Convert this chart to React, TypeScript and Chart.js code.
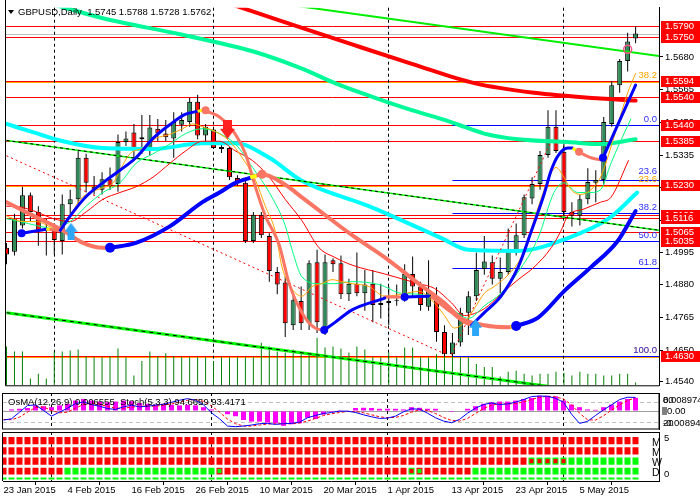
import React, { useEffect, useRef } from "react";
import { Chart, registerables } from "chart.js";

Chart.register(...registerables);

const FONT = "'Liberation Sans', Arial, sans-serif";
const X_MIN = -0.0625;
const X_MAX = 81.9375;
const Y_MIN = 1.4527;
const Y_MAX = 1.5853;

// ---------------- data ----------------
const dateTicks = [0, 8, 16, 24, 32, 40, 48, 56, 64, 72];
const dateLabels = ["23 Jan 2015", "4 Feb 2015", "16 Feb 2015", "26 Feb 2015", "10 Mar 2015", "20 Mar 2015", "1 Apr 2015", "13 Apr 2015", "23 Apr 2015", "5 May 2015"];
const monthStarts = [6, 26, 48, 70];
const priceTicks = [1.568, 1.5565, 1.545, 1.5335, 1.522, 1.5105, 1.4995, 1.488, 1.4765, 1.465, 1.454];

const opens = [1.5010, 1.4996, 1.5088, 1.5194, 1.5136, 1.5071, 1.5078, 1.5034, 1.5163, 1.5180,
  1.5326, 1.5224, 1.5214, 1.5251, 1.5234, 1.5381, 1.5415, 1.5391, 1.5357, 1.5428,
  1.5411, 1.5394, 1.5442, 1.5452, 1.5523, 1.5404, 1.5425, 1.5364, 1.5360, 1.5255,
  1.5238, 1.5034, 1.5126, 1.5051, 1.4925, 1.4888, 1.4738, 1.4823, 1.4745, 1.4959,
  1.4728, 1.4966, 1.4956, 1.4847, 1.4884, 1.4850, 1.4884, 1.4809, 1.4816, 1.4823,
  1.4830, 1.4918, 1.4874, 1.4803, 1.4833, 1.4714, 1.4636, 1.4677, 1.4782, 1.4840,
  1.4935, 1.4959, 1.4901, 1.4925, 1.4999, 1.5054, 1.5183, 1.5234, 1.5336, 1.5435,
  1.5347, 1.5136, 1.5122, 1.5180, 1.5238, 1.5248, 1.5445, 1.5581, 1.5666, 1.5745];
const highs = [1.5027, 1.5129, 1.5224, 1.5204, 1.5156, 1.5112, 1.5095, 1.5197, 1.5214, 1.5350,
  1.5340, 1.5262, 1.5275, 1.5292, 1.5408, 1.5418, 1.5445, 1.5476, 1.5476, 1.5462,
  1.5459, 1.5486, 1.5486, 1.5537, 1.5547, 1.5445, 1.5435, 1.5374, 1.5364, 1.5265,
  1.5248, 1.5136, 1.5136, 1.5061, 1.4942, 1.4908, 1.4847, 1.4874, 1.4966, 1.5003,
  1.4986, 1.4973, 1.4983, 1.4901, 1.4993, 1.4932, 1.4932, 1.4884, 1.4874, 1.4881,
  1.4952, 1.4979, 1.4891, 1.4966, 1.4871, 1.4738, 1.4711, 1.4799, 1.4857, 1.4993,
  1.5051, 1.4983, 1.4976, 1.5078, 1.5095, 1.5197, 1.5258, 1.5350, 1.5493, 1.5493,
  1.5384, 1.5170, 1.5197, 1.5289, 1.5282, 1.5469, 1.5595, 1.5673, 1.5765, 1.5788];
const lows = [1.4952, 1.4983, 1.5078, 1.5102, 1.5017, 1.4983, 1.4986, 1.4986, 1.5129, 1.5163,
  1.5204, 1.5197, 1.5197, 1.5214, 1.5207, 1.5367, 1.5326, 1.5340, 1.5333, 1.5384,
  1.5384, 1.5326, 1.5418, 1.5435, 1.5391, 1.5384, 1.5357, 1.5343, 1.5248, 1.5228,
  1.5027, 1.5027, 1.5044, 1.4891, 1.4847, 1.4697, 1.4721, 1.4721, 1.4721, 1.4711,
  1.4704, 1.4925, 1.4830, 1.4823, 1.4840, 1.4789, 1.4748, 1.4762, 1.4738, 1.4806,
  1.4820, 1.4840, 1.4789, 1.4789, 1.4680, 1.4629, 1.4629, 1.4663, 1.4704, 1.4823,
  1.4915, 1.4881, 1.4850, 1.4915, 1.4983, 1.5044, 1.5163, 1.5214, 1.5326, 1.5343,
  1.5119, 1.5085, 1.5088, 1.5163, 1.5170, 1.5231, 1.5435, 1.5554, 1.5629, 1.5728];
const closes = [1.4986, 1.5112, 1.5194, 1.5136, 1.5068, 1.5078, 1.5037, 1.5163, 1.5180, 1.5326,
  1.5238, 1.5214, 1.5251, 1.5228, 1.5381, 1.5394, 1.5360, 1.5398, 1.5432, 1.5411,
  1.5398, 1.5452, 1.5459, 1.5523, 1.5404, 1.5435, 1.5360, 1.5357, 1.5258, 1.5238,
  1.5034, 1.5126, 1.5054, 1.4928, 1.4881, 1.4745, 1.4826, 1.4745, 1.4956, 1.4748,
  1.4959, 1.4952, 1.4847, 1.4884, 1.4850, 1.4881, 1.4809, 1.4816, 1.4823, 1.4826,
  1.4918, 1.4874, 1.4809, 1.4860, 1.4714, 1.4636, 1.4677, 1.4782, 1.4840, 1.4932,
  1.4962, 1.4901, 1.4925, 1.4999, 1.5054, 1.5187, 1.5234, 1.5336, 1.5435, 1.5350,
  1.5136, 1.5122, 1.5180, 1.5241, 1.5248, 1.5452, 1.5581, 1.5666, 1.5734, 1.5762];
const volumes = [160, 140, 140, 28, 48, 28, 140, 140, 144, 148, 120, 116, 116, 120, 152, 116, 40, 100, 140, 120,
  132, 120, 116, 116, 116, 116, 100, 116, 116, 116, 116, 116, 176, 160, 140, 136, 148, 128, 128, 196,
  156, 160, 152, 136, 160, 148, 116, 116, 136, 116, 156, 156, 116, 116, 128, 132, 132, 116, 116, 88,
  76, 76, 36, 56, 60, 48, 40, 48, 48, 56, 52, 40, 56, 48, 48, 40, 40, 48, 48, 12];

const bidPrice = 1.5762;
const redLevels = [1.5790, 1.5750, 1.5594, 1.5540, 1.5440, 1.5385, 1.5230, 1.5126, 1.5116, 1.5065, 1.5035, 1.4630];
const orangeLevels = [1.5594, 1.5230, 1.4630];
const orangeFibLabels = ["38.2", "23.6", "100.0"];
const fibStart = 56;
const blueFibLevels = [1.5440, 1.5249, 1.5131, 1.5035, 1.4939, 1.4630];
const blueFibLabels = ["0.0", "23.6", "38.2", "50.0", "61.8", "100.0"];

// moving averages / indicator lines: [bar index, price]
const maMint = [[6.5, 1.586], [12.1, 1.5816], [22.1, 1.5758], [30.9, 1.57], [37.1, 1.5639], [41.25, 1.5588], [45.5, 1.5544], [48, 1.552], [51.75, 1.5486], [55, 1.5459], [56.75, 1.5442], [60, 1.5411], [64.25, 1.5391], [70.5, 1.5381], [74.6, 1.5374], [79, 1.5391]];
const maRedThick = [[28.75, 1.586], [30.9, 1.584], [37.1, 1.5782], [43.4, 1.5724], [50.9, 1.5656], [58.75, 1.5588], [66.25, 1.5554], [74.6, 1.5534], [79, 1.5527]];
const maCyan = [[0, 1.5445], [3.4, 1.5415], [7.1, 1.5384], [12.1, 1.536], [18.4, 1.5357], [24.6, 1.5377], [28.75, 1.5377], [33, 1.5326], [37.1, 1.5245], [45.5, 1.5156], [54.6, 1.5044], [58, 1.5003], [64.25, 1.4999], [70.5, 1.5044], [75.6, 1.5112], [79.2, 1.5204]];
const maOrange = [[0, 1.5122], [2.1, 1.5102], [3.75, 1.5102], [6.25, 1.5078], [8, 1.5122], [9.25, 1.518], [10.5, 1.5204], [12.1, 1.5221], [13.4, 1.5238], [14.25, 1.5282], [15.5, 1.534], [17.1, 1.536], [18.75, 1.5394], [20.5, 1.5408], [22.1, 1.5428], [23.4, 1.5445], [24.6, 1.5435], [26.25, 1.5418], [28, 1.5384], [29.6, 1.5326], [31.25, 1.5248], [32.5, 1.5156], [33.75, 1.5068], [34.6, 1.4942], [35.9, 1.4864], [37.1, 1.484], [38.4, 1.4874], [39.6, 1.4884], [40.9, 1.4898], [42.1, 1.4891], [43.4, 1.4884], [45.5, 1.4874], [47.5, 1.484], [49.6, 1.4847], [51.75, 1.4857], [53.75, 1.4816], [55, 1.4772], [56.25, 1.4728], [57.5, 1.4748], [58.75, 1.4796], [60, 1.485], [61.25, 1.4874], [63, 1.4915], [64.6, 1.4976], [65.9, 1.5078], [67.1, 1.518], [68, 1.5248], [69, 1.5292], [70, 1.5258], [70.9, 1.5214], [72.1, 1.5197], [73.4, 1.5214], [74.6, 1.5258], [76.5, 1.5418], [78, 1.5554], [79, 1.5622]];
const maSpring = [[0, 1.5112], [1.75, 1.5102], [3.75, 1.5088], [5.9, 1.5078], [8, 1.5102], [10, 1.5156], [12.1, 1.5204], [14.25, 1.5238], [16.25, 1.5306], [18.4, 1.534], [20.5, 1.5374], [22.5, 1.5411], [24.6, 1.5428], [26.75, 1.5411], [28.75, 1.5374], [30.9, 1.5292], [33, 1.5204], [35, 1.5088], [35.9, 1.4999], [37.1, 1.4908], [39.25, 1.4884], [41.25, 1.4884], [43.4, 1.4891], [46.75, 1.4881], [49.6, 1.485], [51.75, 1.4847], [53.75, 1.483], [55.9, 1.4796], [58, 1.4762], [60, 1.4806], [62.1, 1.485], [64.25, 1.4925], [66.75, 1.5044], [68.75, 1.5204], [70, 1.5238], [71.75, 1.5204], [73.4, 1.5204], [74.6, 1.5214], [75.9, 1.5306], [77.1, 1.5384], [78.4, 1.5462]];
const maRedThin = [[0, 1.5156], [1.75, 1.5153], [3.75, 1.5136], [5.9, 1.5112], [8, 1.5102], [10, 1.5136], [12.1, 1.518], [14.25, 1.5204], [16.25, 1.5224], [18.4, 1.5258], [20.5, 1.5306], [22.5, 1.535], [24.6, 1.5384], [26.75, 1.5384], [28.75, 1.535], [30.9, 1.5316], [33, 1.5258], [35, 1.518], [37.1, 1.5105], [39.25, 1.501], [41.25, 1.4976], [43.4, 1.4949], [47.5, 1.4918], [51.75, 1.4884], [53.75, 1.4867], [55.9, 1.4816], [57.5, 1.4772], [60, 1.4796], [62.1, 1.4847], [64.25, 1.4898], [66.25, 1.4942], [68.4, 1.501], [69.6, 1.5068], [70.5, 1.5122], [72.5, 1.5146], [74.6, 1.517], [75.9, 1.5187], [78.1, 1.5316]];

const slowSalmon1 = [[0, 1.517], [3.4, 1.5122], [7.1, 1.5071], [9.6, 1.5027], [12.1, 1.501], [13, 1.501]];
const slowBlue1 = [[13, 1.501], [16.25, 1.5027], [20.5, 1.5085], [24.6, 1.517], [26.75, 1.5204], [28.75, 1.5238], [30.9, 1.5258]];
const slowSalmon2 = [[30.9, 1.5258], [32.1, 1.5268], [35, 1.5231], [37.1, 1.5187], [43.4, 1.5054], [47.5, 1.4976], [51.75, 1.4884], [55, 1.4816], [57.1, 1.4762], [60, 1.4738], [63, 1.4731], [64, 1.4735]];
const slowBlue2 = [[64, 1.4735], [66.75, 1.4765], [70, 1.4857], [73.4, 1.4942], [76.75, 1.5034], [79, 1.5139]];
const slowBlueDots = [[13, 1.501], [64, 1.4735]];
const slowSalmonDots = [[32.1, 1.5268]];
const slowYellow = [[[12.4, 1.501], [13, 1.501]], [[63.3, 1.4731], [64, 1.4735]], [[30.6, 1.5257], [31.4, 1.5262]]];

const fastBlue = [
  [[1.9, 1.5061], [5, 1.5075]],
  [[6.75, 1.5071], [8, 1.5122], [10, 1.519], [12.1, 1.5238], [14.25, 1.5282], [16.25, 1.5326], [18.4, 1.5394], [20.5, 1.5442], [22.5, 1.5479], [24, 1.5489]],
  [[39.9, 1.4721], [41.25, 1.4748], [43.4, 1.4792], [47.5, 1.4833]],
  [[50, 1.4837], [53, 1.484]],
  [[58.4, 1.4738], [60, 1.4782], [62.1, 1.484], [64.25, 1.4942], [65.9, 1.5068], [67.5, 1.5197], [68.4, 1.5282], [69.25, 1.5333], [70.5, 1.536], [71.1, 1.536]],
  [[74.9, 1.5326], [79, 1.5581]],
];
const fastSalmon = [
  [[5.25, 1.5075], [6.5, 1.5071]],
  [[24.6, 1.5493], [26.75, 1.5469], [28.75, 1.5408], [30, 1.534], [31.25, 1.5224], [32.5, 1.5122], [34.25, 1.502], [35.5, 1.4884], [37.1, 1.4782], [38.75, 1.4728], [39.9, 1.4721]],
  [[47.5, 1.4837], [49.6, 1.4837]],
  [[53.4, 1.4837], [55.9, 1.4782], [57.5, 1.4748], [58.4, 1.4738]],
  [[71.6, 1.535], [73.4, 1.5326], [74.6, 1.5319]],
];
const fastYellow = [[[5, 1.5075], [5.4, 1.5075]], [[24, 1.5489], [24.6, 1.5493]], [[71.1, 1.536], [71.6, 1.535]]];
const fastBlueDots = [[1.9, 1.5061], [39.9, 1.4721], [50, 1.4837], [74.9, 1.5326]];
const fastSalmonDots = [[25, 1.5493], [71.9, 1.5347]];

const redDottedDown = [[0, 1.5333], [54.6, 1.4643]];
const redDottedUp = [[55.9, 1.4636], [68.4, 1.5384]];
const channelMid = [[0, 1.5387], [82, 1.5071]];
const channelLow = [[0, 1.4782], [70, 1.4516]];
const channelTop = [[36.25, 1.586], [82, 1.5683]];

const redArrowPoints = [[27.75, 1.5426]];
const upArrowPoints = [[8.1, 1.5068], [58.9, 1.4731]];
const markerPoints = [[78, 1.5707]];

// OsMA / Stochastic panel
const osma = [0.0003, 0.0008, 0.0011, 0.0015, 0.0028, 0.0024, 0.0019, 0.0028, 0.0036, 0.0052,
  0.0060, 0.0052, 0.0047, 0.0044, 0.0047, 0.0052, 0.0049, 0.0040, 0.0036, 0.0032,
  0.0036, 0.0031, 0.0028, 0.0031, 0.0028, 0.0019, 0.0008, -0.0002, -0.0016, -0.0026,
  -0.0045, -0.0053, -0.0053, -0.0058, -0.0061, -0.0074, -0.0066, -0.0061, -0.0034, -0.0040,
  -0.0018, -0.0005, 0.0001, 0.0002, 0.0015, 0.0016, 0.0015, 0.0011, 0.0011, 0.0011,
  0.0008, 0.0019, 0.0016, 0.0011, 0.0011, 0.0000, -0.0005, 0.0000, 0.0011, 0.0024,
  0.0036, 0.0044, 0.0047, 0.0047, 0.0052, 0.0060, 0.0065, 0.0076, 0.0076, 0.0073,
  0.0052, 0.0032, 0.0019, 0.0008, 0.0006, 0.0019, 0.0032, 0.0047, 0.0060, 0.006555];
const stochMain = [26, 30, 50, 70, 72, 55, 38, 50, 62, 76,
  81, 73, 68, 61, 58, 66, 71, 66, 68, 71,
  74, 80, 86, 91, 86, 72, 48, 30, 8, 6,
  8, 11, 15, 16, 13, 15, 16, 20, 33, 40,
  46, 49, 53, 53, 49, 42, 36, 31, 32, 38,
  51, 60, 59, 47, 33, 23, 18, 28, 47, 62,
  73, 78, 73, 75, 80, 88, 97, 99, 98, 92,
  80, 44, 16, 22, 40, 57, 72, 88, 95, 94.6659];
const stochSignal = [28, 27, 35, 50, 64, 66, 55, 48, 50, 62,
  73, 77, 74, 67, 62, 62, 65, 68, 68, 68,
  71, 75, 80, 86, 88, 83, 69, 50, 29, 15,
  8, 8, 11, 14, 15, 15, 15, 17, 23, 31,
  40, 45, 49, 52, 52, 48, 42, 36, 33, 34,
  40, 50, 57, 55, 46, 34, 25, 23, 31, 46,
  61, 71, 75, 75, 76, 81, 88, 95, 98, 96,
  90, 72, 47, 27, 26, 39, 56, 72, 85, 93.4171];
const stochLevels = [80, 20];

// Signal matrix panel: R red, G green, g green with red dot, r red with green dot
const matrixRows = [
  "RRRRRRRRRR" + "RRRRRRRRRR" + "RRRRRRRRRR" + "RRRRRRRRRR" + "RRRRRRRRRR" + "RRRRRRRRRR" + "RRRRRRRRRR" + "RRRRRRRRRR",
  "RRRRRRRRRR" + "RRRRRRRRRR" + "RRRRRRRRRR" + "RRRRRRRRRR" + "RRRRRRRRRR" + "RRRRRRRRRR" + "RRRRRRRRRR" + "RRRRRRRRRR",
  "RRRRRRRRRR" + "RRRRRRRRRR" + "RRRRRRRRRR" + "RRRRRRRRRR" + "RRRRRRRRRR" + "RRRRRRRRRR" + "RRRRRR" + "ggggg" + "GGGGGGGGG",
  "RRRRRRRR" + "GGGGGGGGGGGGGGGGGGG" + "r" + "RRRRRRRRRRRRRRRRRRRRRRR" + "g" + "r" + "RRRRRR" + "GGGGGGGGGGGGGGGGGGGGG",
  "GGGGGGGGGG" + "GGGGGGGGGG" + "GGGGGGGGGG" + "GGGGGGGGGG" + "GGGGGGGGGG" + "GGGGGGGGGG" + "GGGGGGGGGG" + "GGGGGGGGGG",
];
const matrixLabels = ["M", "M", "W", "D"];

// ---------------- styling helpers ----------------
const RED = "#ff0000";
const BODY_GREEN = "#2e8b57";
const SALMON = "#fa7563";
const BLUE = "#0000ff";
const YELLOW = "#ffff00";
const ROW_BANDS = [[3.65, 4.58], [2.6, 3.54], [1.56, 2.5], [0.57, 1.46], [0, 0.47]];

const pts = (a: number[][]) => a.map(([x, y]) => ({ x, y }));

function curve(points: number[][], color: string, width: number, order: number, extra: any = {}) {
  return {
    type: "line", data: pts(points), borderColor: color, borderWidth: width, pointRadius: 0, pointHoverRadius: 0,
    fill: false, cubicInterpolationMode: "monotone", borderCapStyle: "round", borderJoinStyle: "round", order, ...extra,
  };
}
function straight(points: number[][], color: string, width: number, order: number, dash: number[] = []) {
  return {
    type: "line", data: pts(points), borderColor: color, borderWidth: width, pointRadius: 0, pointHoverRadius: 0,
    fill: false, tension: 0, borderDash: dash, order,
  };
}
function dots(points: number[][], color: string, radius: number, order: number, extra: any = {}) {
  return {
    type: "line", data: pts(points), showLine: false, pointRadius: radius, pointHoverRadius: radius,
    pointBackgroundColor: color, pointBorderColor: color, pointBorderWidth: 0, order, ...extra,
  };
}

function makeArrow(color: string, down: boolean, w: number, h: number) {
  const c = document.createElement("canvas");
  c.width = w; c.height = h;
  const g = c.getContext("2d")!;
  g.fillStyle = color;
  const sh = Math.round(w * 0.2);
  const headH = Math.round(h * 0.5);
  g.beginPath();
  if (down) {
    g.moveTo(sh, 0); g.lineTo(w - sh, 0); g.lineTo(w - sh, h - headH); g.lineTo(w, h - headH);
    g.lineTo(w / 2, h); g.lineTo(0, h - headH); g.lineTo(sh, h - headH);
  } else {
    g.moveTo(sh, h); g.lineTo(w - sh, h); g.lineTo(w - sh, headH); g.lineTo(w, headH);
    g.lineTo(w / 2, 0); g.lineTo(0, headH); g.lineTo(sh, headH);
  }
  g.closePath(); g.fill();
  return c;
}

const baseX = (extra: any = {}) => ({ type: "linear", min: X_MIN, max: X_MAX, offset: false, display: false, ...extra });

function drawSeparators(ctx: CanvasRenderingContext2D, chart: any) {
  const a = chart.chartArea; const x = chart.scales.x;
  ctx.save();
  ctx.strokeStyle = "#000"; ctx.lineWidth = 1; ctx.setLineDash([3, 3]);
  monthStarts.forEach((i) => {
    const px = Math.floor(x.getPixelForValue(i)) + 0.5;
    ctx.beginPath(); ctx.moveTo(px, a.top); ctx.lineTo(px, a.bottom); ctx.stroke();
  });
  ctx.restore();
}

// ---------------- charts ----------------
function buildMain(canvas: HTMLCanvasElement) {
  const redArrow = makeArrow("#ff2020", true, 15, 19);
  const upArrow = makeArrow("#2ea6f8", false, 13, 17);

  const overlay = {
    id: "mainOverlay",
    beforeDatasetsDraw(chart: any) {
      const { ctx, chartArea: a, scales: { x, y } } = chart;
      ctx.save();
      ctx.beginPath(); ctx.rect(a.left, a.top, a.right - a.left, a.bottom - a.top); ctx.clip();
      const hline = (p: number, color: string, w: number, x0: number, dy = 0) => {
        const py = Math.round(y.getPixelForValue(p)) + (w % 2 ? 0.5 : 0) + dy;
        ctx.strokeStyle = color; ctx.lineWidth = w; ctx.setLineDash([]);
        ctx.beginPath(); ctx.moveTo(x0, py); ctx.lineTo(a.right, py); ctx.stroke();
      };
      hline(bidPrice, "#c0c0c0", 1, a.left);
      orangeLevels.forEach((p) => hline(p, "#ffa500", 2, a.left, 1));
      redLevels.forEach((p) => hline(p, RED, 1, a.left));
      const fx = x.getPixelForValue(fibStart);
      blueFibLevels.forEach((p) => hline(p, BLUE, 1, fx));
      ctx.restore();
      drawSeparators(ctx, chart);
    },
    afterDatasetsDraw(chart: any) {
      const { ctx, chartArea: a, scales: { y } } = chart;
      ctx.save();
      ctx.font = `9.5px ${FONT}`; ctx.textAlign = "right"; ctx.textBaseline = "bottom";
      orangeLevels.forEach((p, i) => {
        ctx.fillStyle = "#ffa500";
        ctx.fillText(orangeFibLabels[i], a.right - 2, Math.round(y.getPixelForValue(p)) - 1);
      });
      blueFibLevels.forEach((p, i) => {
        ctx.fillStyle = "#3030ff";
        const dy = blueFibLabels[i] === "23.6" ? -4 : -1;
        ctx.fillText(blueFibLabels[i], a.right - 2, Math.round(y.getPixelForValue(p)) + dy);
      });
      ctx.restore();
    },
    afterDraw(chart: any) {
      const { ctx, chartArea: a, scales: { y } } = chart;
      ctx.save();
      ctx.strokeStyle = "#000"; ctx.lineWidth = 1; ctx.setLineDash([]);
      ctx.beginPath(); ctx.moveTo(a.left - 0.5, 0); ctx.lineTo(a.left - 0.5, a.bottom + 0.5); ctx.lineTo(a.right, a.bottom + 0.5); ctx.stroke();
      ctx.font = `9.5px ${FONT}`; ctx.textAlign = "left"; ctx.textBaseline = "middle";
      redLevels.forEach((p) => {
        const py = Math.round(y.getPixelForValue(p));
        ctx.fillStyle = RED; ctx.fillRect(a.right + 2, py - 5, 39, 11);
        ctx.fillStyle = "#fff"; ctx.fillText(p.toFixed(4), a.right + 6, py + 0.5);
      });
      ctx.fillStyle = "#000";
      ctx.beginPath(); ctx.moveTo(8, 10); ctx.lineTo(14, 10); ctx.lineTo(11, 14); ctx.closePath(); ctx.fill();
      const n = opens.length - 1;
      const title = `GBPUSD,Daily  ${opens[n].toFixed(4)} ${highs[n].toFixed(4)} ${lows[n].toFixed(4)} ${closes[n].toFixed(4)}`;
      ctx.fillText(title, 18, 12.5);
      ctx.restore();
    },
  };

  const datasets: any[] = [
    dots(markerPoints, "rgba(0,0,0,0)", 4, 1, { pointBorderColor: "#ff4f86", pointBorderWidth: 1.5 }),
    dots(redArrowPoints, RED, 6, 1, { pointStyle: redArrow }),
    dots(upArrowPoints, "#2ea6f8", 6, 1, { pointStyle: upArrow }),
    dots(slowBlueDots, BLUE, 5, 2),
    dots(slowSalmonDots, SALMON, 4.5, 2),
    dots(fastBlueDots, BLUE, 4, 2),
    dots(fastSalmonDots, SALMON, 4, 2),
    ...fastYellow.map((s) => straight(s, YELLOW, 3, 2.5)),
    ...slowYellow.map((s) => straight(s, YELLOW, 4, 2.5)),
    ...fastBlue.map((s) => curve(s, BLUE, 3, 3)),
    ...fastSalmon.map((s) => curve(s, SALMON, 3, 3)),
    curve(slowSalmon1, SALMON, 4, 4),
    curve(slowBlue1, BLUE, 4, 4),
    curve(slowSalmon2, SALMON, 4, 4),
    curve(slowBlue2, BLUE, 4, 4),
    curve(maOrange, "#ffa500", 1, 6),
    curve(maSpring, "#00ff7f", 1, 6),
    curve(maRedThin, RED, 1, 6),
    straight(redDottedDown, RED, 1, 7, [2, 3]),
    straight(redDottedUp, RED, 1, 7, [2, 3]),
    straight(channelMid, "#000", 1, 7, [3, 3]),
    straight(channelMid, "#00ff00", 1.5, 8),
    straight(channelLow, "#000", 1, 7, [4, 4]),
    straight(channelLow, "#00ff00", 3, 8),
    straight(channelTop, "#00ee00", 2, 8),
    curve(maCyan, "#00ffff", 4, 9),
    curve(maMint, "#00fa9a", 4, 9),
    curve(maRedThick, RED, 4, 9),
    {
      type: "bar", data: opens.map((o, i) => ({ x: i, y: [o, closes[i]] })),
      backgroundColor: opens.map((o, i) => (closes[i] >= o ? BODY_GREEN : RED)),
      borderColor: "#000", borderWidth: 1, borderSkipped: false, barThickness: 5, grouped: false, inflateAmount: 0, order: 20,
    },
    {
      type: "bar", data: highs.map((h, i) => ({ x: i, y: [lows[i], h] })),
      backgroundColor: "#000", borderWidth: 0, barThickness: 1, grouped: false, inflateAmount: 0, order: 21,
    },
    {
      type: "bar", yAxisID: "yVol", data: volumes.map((v, i) => ({ x: i, y: v })),
      backgroundColor: "#008000", borderWidth: 0, barThickness: 1, grouped: false, inflateAmount: 0, order: 40,
    },
  ];

  return new Chart(canvas, {
    type: "bar",
    data: { datasets },
    options: {
      animation: false, responsive: false, maintainAspectRatio: false, events: [],
      layout: { padding: { left: 3, top: 2, right: 0, bottom: 1 } },
      plugins: { legend: { display: false }, tooltip: { enabled: false } },
      scales: {
        x: baseX(),
        y: {
          position: "right", min: Y_MIN, max: Y_MAX,
          afterBuildTicks: (s: any) => { s.ticks = priceTicks.map((v) => ({ value: v })); },
          afterFit: (s: any) => { s.width = 41; },
          ticks: { autoSkip: false, padding: 2, color: "#000", font: { family: FONT, size: 9.5 }, callback: (v: any) => Number(v).toFixed(4) },
          grid: { drawOnChartArea: false, tickLength: 4, color: "#000" },
          border: { color: "#000" },
        },
        yVol: { display: false, min: 0, max: 1560 },
      },
    } as any,
    plugins: [overlay],
  } as any);
}

function buildOsma(canvas: HTMLCanvasElement) {
  const overlay = {
    id: "osmaOverlay",
    beforeDatasetsDraw(chart: any) {
      const { ctx, chartArea: a, scales: { y, ys } } = chart;
      ctx.save();
      ctx.lineWidth = 1;
      ctx.strokeStyle = "#a0a0a0"; ctx.setLineDash([]);
      const zy = Math.round(y.getPixelForValue(0)) + 0.5;
      ctx.beginPath(); ctx.moveTo(a.left, zy); ctx.lineTo(a.right, zy); ctx.stroke();
      ctx.strokeStyle = "#c0c0c0"; ctx.setLineDash([4, 3]);
      stochLevels.forEach((l) => {
        const py = Math.round(ys.getPixelForValue(l)) + 0.5;
        ctx.beginPath(); ctx.moveTo(a.left, py); ctx.lineTo(a.right, py); ctx.stroke();
      });
      ctx.restore();
      drawSeparators(ctx, chart);
    },
    afterDraw(chart: any) {
      const { ctx, chartArea: a, scales: { y, ys } } = chart;
      ctx.save();
      ctx.strokeStyle = "#000"; ctx.lineWidth = 1; ctx.setLineDash([]);
      ctx.strokeRect(a.left - 0.5, a.top + 0.5, a.right - a.left + 0.5, a.bottom - a.top - 0.5);
      ctx.font = `9.5px ${FONT}`; ctx.fillStyle = "#000"; ctx.textBaseline = "middle"; ctx.textAlign = "left";
      const n = osma.length - 1;
      ctx.fillText(`OsMA(12,26,9) ${osma[n].toFixed(6)}  Stoch(5,3,3) ${stochMain[n].toFixed(4)} ${stochSignal[n].toFixed(4)}`, 8, a.top + 9.5);
      const lx = a.right + 4;
      ctx.fillText("80", lx, Math.round(ys.getPixelForValue(80)) - 2);
      ctx.fillText(y.max.toFixed(6), lx, Math.round(ys.getPixelForValue(80)) - 2);
      ctx.fillStyle = "#808080"; ctx.fillRect(a.right + 3, Math.round(y.getPixelForValue(0)) - 4, 5, 8);
      ctx.fillStyle = "#000";
      ctx.fillText("0.00", a.right + 8, Math.round(y.getPixelForValue(0)));
      ctx.fillText("20", lx, Math.round(ys.getPixelForValue(20)) + 1);
      ctx.fillText((-0.00894).toFixed(5), lx, Math.round(ys.getPixelForValue(20)) + 1);
      ctx.restore();
    },
  };
  return new Chart(canvas, {
    type: "bar",
    data: {
      datasets: [
        { type: "line", yAxisID: "ys", data: stochMain.map((v, i) => ({ x: i, y: v })), borderColor: BLUE, borderWidth: 1, pointRadius: 0, tension: 0, order: 1 },
        { type: "line", yAxisID: "ys", data: stochSignal.map((v, i) => ({ x: i, y: v })), borderColor: RED, borderWidth: 1, borderDash: [3, 2], pointRadius: 0, tension: 0, order: 2 },
        { type: "bar", yAxisID: "y", data: osma.map((v, i) => ({ x: i, y: v })), backgroundColor: "#ff00ff", borderWidth: 0, barThickness: 5, grouped: false, inflateAmount: 0, order: 5 },
      ],
    },
    options: {
      animation: false, responsive: false, maintainAspectRatio: false, events: [],
      layout: { padding: { left: 3, top: 1, right: 0, bottom: 1 } },
      plugins: { legend: { display: false }, tooltip: { enabled: false } },
      scales: {
        x: baseX(),
        y: {
          position: "right", min: -0.008974, max: 0.008974,
          afterFit: (s: any) => { s.width = 41; },
          ticks: { display: false },
          grid: { drawOnChartArea: false, drawTicks: false },
          border: { color: "#000" },
        },
        ys: { display: false, min: -1, max: 108 },
      },
    } as any,
    plugins: [overlay],
  } as any);
}

function buildMatrix(canvas: HTMLCanvasElement) {
  const cellColor = (ch: string) => (ch === "R" || ch === "r" ? RED : "#00ff00");
  const dotColor = (ch: string) => (ch === "g" ? RED : "#00ff00");
  const datasets: any[] = [];
  matrixRows.forEach((row, r) => {
    const [lo, hi] = ROW_BANDS[r];
    const chars = row.split("");
    datasets.push({
      type: "bar", data: chars.map((_, i) => ({ x: i, y: [lo, hi] })),
      backgroundColor: chars.map(cellColor), borderColor: "rgba(255,255,255,0.35)", borderWidth: 1,
      borderSkipped: false, barThickness: 8, grouped: false, inflateAmount: 0, order: 10,
    });
    const marks = chars.map((ch, i) => ({ ch, i })).filter((d) => d.ch === "g" || d.ch === "r");
    if (marks.length) {
      const mid = (lo + hi) / 2;
      datasets.push({
        type: "bar", data: marks.map((d) => ({ x: d.i, y: [mid - 0.22, mid + 0.22] })),
        backgroundColor: marks.map((d) => dotColor(d.ch)), borderWidth: 0, barThickness: 4, grouped: false, inflateAmount: 0, order: 1,
      });
    }
  });
  const overlay = {
    id: "matrixOverlay",
    beforeDatasetsDraw(chart: any) { drawSeparators(chart.ctx, chart); },
    afterDraw(chart: any) {
      const { ctx, chartArea: a, scales: { y } } = chart;
      ctx.save();
      ctx.strokeStyle = "#000"; ctx.lineWidth = 1; ctx.setLineDash([]);
      ctx.beginPath(); ctx.moveTo(a.left - 0.5, a.bottom); ctx.lineTo(a.left - 0.5, a.top + 0.5); ctx.lineTo(a.right, a.top + 0.5); ctx.stroke();
      ctx.fillStyle = "#000"; ctx.textBaseline = "middle";
      ctx.font = `10.5px ${FONT}`; ctx.textAlign = "left";
      matrixLabels.forEach((lab, r) => {
        const [lo, hi] = ROW_BANDS[r];
        ctx.fillText(lab, a.right - 7, Math.round(y.getPixelForValue((lo + hi) / 2)) + 2);
      });
      ctx.font = `9.5px ${FONT}`;
      ctx.fillText("5", a.right + 5, a.top + 6);
      ctx.fillText("0", a.right + 5, a.bottom - 7);
      ctx.restore();
    },
  };
  return new Chart(canvas, {
    type: "bar",
    data: { datasets },
    options: {
      animation: false, responsive: false, maintainAspectRatio: false, events: [],
      layout: { padding: { left: 3, top: 1, right: 0, bottom: 0 } },
      plugins: { legend: { display: false }, tooltip: { enabled: false } },
      scales: {
        x: {
          type: "linear", min: X_MIN, max: X_MAX, offset: false, position: "bottom",
          afterBuildTicks: (s: any) => { s.ticks = dateTicks.map((v) => ({ value: v })); },
          afterFit: (s: any) => { s.height = 19; },
          ticks: {
            autoSkip: false, maxRotation: 0, minRotation: 0, align: "start", padding: 0, color: "#000",
            font: { family: FONT, size: 9.5 }, callback: (_v: any, i: number) => dateLabels[i],
          },
          grid: { drawOnChartArea: false, tickLength: 4, color: "#000" },
          border: { color: "#000" },
        },
        y: {
          position: "right", min: 0, max: 5,
          afterFit: (s: any) => { s.width = 41; },
          ticks: { display: false },
          grid: { drawOnChartArea: false, drawTicks: false },
          border: { color: "#000" },
        },
      },
    } as any,
    plugins: [overlay],
  } as any);
}

export default function App() {
  const mainRef = useRef<HTMLCanvasElement>(null);
  const osmaRef = useRef<HTMLCanvasElement>(null);
  const matrixRef = useRef<HTMLCanvasElement>(null);
  useEffect(() => {
    const charts = [
      buildMain(mainRef.current!),
      buildOsma(osmaRef.current!),
      buildMatrix(matrixRef.current!),
    ];
    return () => charts.forEach((c) => c.destroy());
  }, []);
  return (
    <div style={{ position: "fixed", left: 0, top: 0, width: 700, height: 500, background: "#fff", overflow: "hidden" }}>
      <canvas ref={mainRef} width={700} height={393} style={{ position: "absolute", left: 0, top: 0, width: 700, height: 393 }} />
      <canvas ref={osmaRef} width={700} height={38} style={{ position: "absolute", left: 0, top: 392, width: 700, height: 38 }} />
      <canvas ref={matrixRef} width={700} height={69} style={{ position: "absolute", left: 0, top: 431, width: 700, height: 69 }} />
    </div>
  );
}
